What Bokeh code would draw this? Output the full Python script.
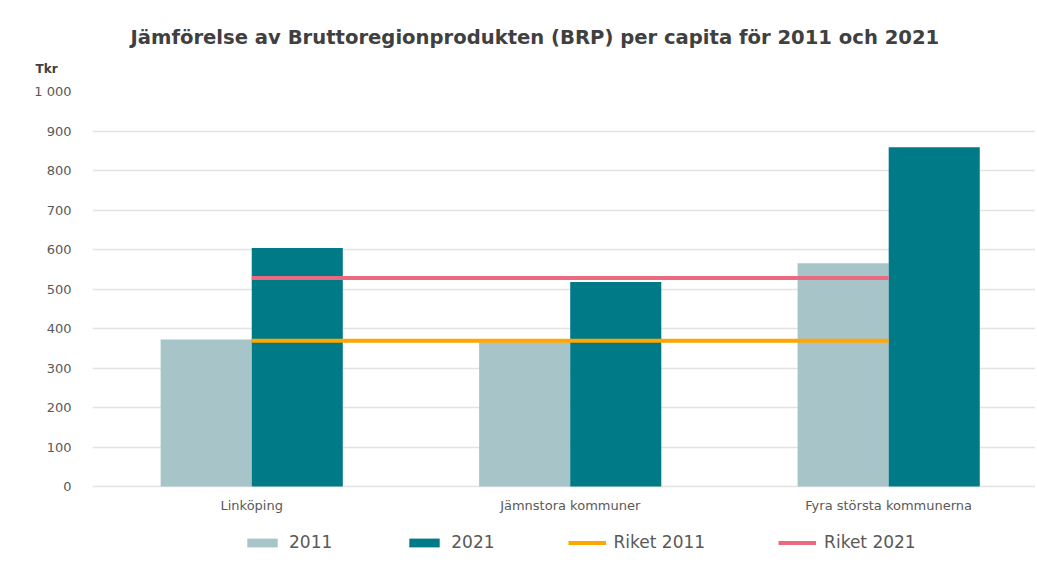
from bokeh.plotting import figure
from bokeh.models import (ColumnDataSource, Range1d, FixedTicker, Title, Legend, LegendItem)
from bokeh.core.properties import value
from bokeh.embed import file_html
from bokeh.resources import INLINE

categories = ["Linköping", "Jämnstora kommuner", "Fyra största kommunerna"]
brp_2011 = [372, 365, 565]
brp_2021 = [604, 518, 859]
riket_2011 = [369, 369, 369]
riket_2021 = [528, 528, 528]
y_ticks = [0, 100, 200, 300, 400, 500, 600, 700, 800, 900, 1000]
title_text = "Jämförelse av Bruttoregionprodukten (BRP) per capita för 2011 och 2021"
unit_text = "Tkr"

C2011 = "#A7C4C9"
C2021 = "#007A87"
CR11 = "#FFA602"
CR21 = "#EC6A80"
FONT = "DejaVu Sans"

idx = list(range(len(categories)))
bw = 0.286
src = ColumnDataSource(dict(
    x11=[i - bw / 2 for i in idx], x21=[i + bw / 2 for i in idx],
    b11=brp_2011, b21=brp_2021, x=idx, r11=riket_2011, r21=riket_2021,
    cat=categories, cat_y=[-48] * len(categories)))

# frame extends below the zero line so the category labels and legend live inside it
p = figure(frame_width=943, frame_height=485, min_border_left=92, min_border_right=0,
           min_border_top=91, min_border_bottom=0,
           x_range=Range1d(-0.5, 2.461), y_range=Range1d(-227.8, 1000),
           output_backend="svg", toolbar_location=None)
p.outline_line_color = None
p.background_fill_color = "white"

r1 = p.vbar(x="x11", top="b11", width=bw, source=src, fill_color=C2011, line_color=None)
r2 = p.vbar(x="x21", top="b21", width=bw, source=src, fill_color=C2021, line_color=None)
r3 = p.line(x="x", y="r11", source=src, line_color=CR11, line_width=4)
r4 = p.line(x="x", y="r21", source=src, line_color=CR21, line_width=4)

p.text(x="x", y="cat_y", text="cat", source=src, text_align="center", text_baseline="middle",
       text_font=value(FONT), text_font_size="13px", text_color="#595959")

p.xgrid.grid_line_color = None
p.xaxis.visible = False
p.ygrid.grid_line_color = "#E3E3E3"
p.ygrid.grid_line_width = 1.3

p.yaxis.ticker = FixedTicker(ticks=y_ticks)
p.yaxis.major_label_overrides = {t: (f"{t:,}".replace(",", " ")) for t in y_ticks}
p.yaxis.axis_line_color = None
p.yaxis.major_tick_line_color = None
p.yaxis.minor_tick_line_color = None
p.yaxis.major_label_standoff = 15
p.yaxis.major_label_text_font = FONT
p.yaxis.major_label_text_font_size = "13px"
p.yaxis.major_label_text_color = "#595959"

# titles (outermost first)
p.title = Title(text=title_text, align="left", offset=38, standoff=-10,
                text_font=FONT, text_font_style="bold", text_font_size="19.6px",
                text_color="#404040")
p.add_layout(Title(text=unit_text, align="left", offset=-57, standoff=32,
                   text_font=FONT, text_font_style="bold", text_font_size="12px",
                   text_color="#404040"), "above")

legend = Legend(items=[LegendItem(label="2011", renderers=[r1]),
                       LegendItem(label="2021", renderers=[r2]),
                       LegendItem(label="Riket 2011", renderers=[r3]),
                       LegendItem(label="Riket 2021", renderers=[r4])],
                orientation="horizontal", location=(151, 24),
                glyph_width=38, glyph_height=11, label_standoff=8, spacing=73,
                padding=0, margin=0, border_line_color=None, background_fill_alpha=0,
                label_text_font=FONT, label_text_font_size="17px",
                label_text_color="#595959", label_height=20)
p.add_layout(legend, "center")

open("out.html", "w").write(file_html(p, INLINE))
